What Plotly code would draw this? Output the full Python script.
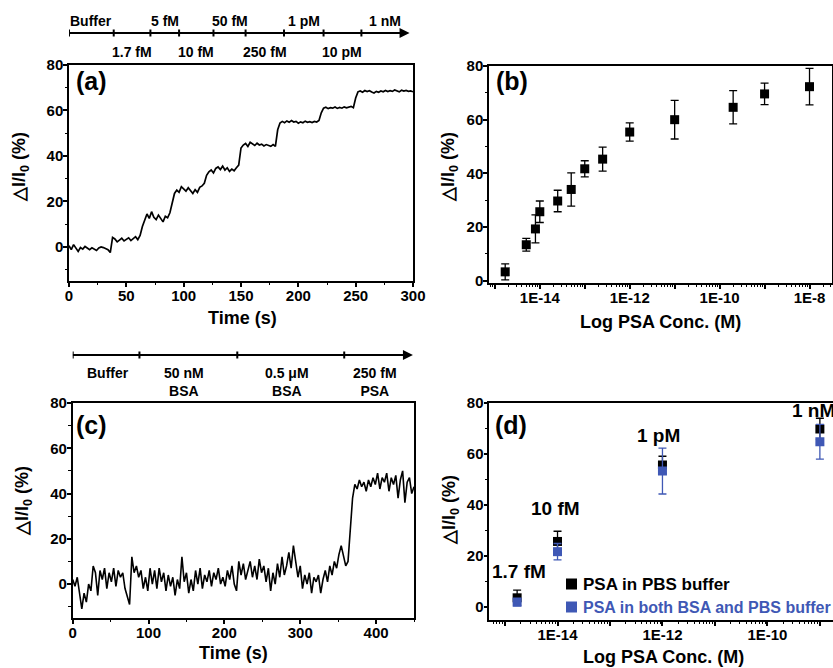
import math
import plotly.graph_objects as go

FONT = "Arial, Liberation Sans, sans-serif"
BLUE = "#3F58B5"

# ---------------- data ----------------
# (a) real-time response to increasing PSA concentrations (sampled every 2 s)
signal_a = [0.5, -1.2, 1.0, -0.8, -2.0, -0.3, -1.0, 0.2, -0.5, -1.2, -0.4, -0.9, -1.6, -0.5, 0.0, -0.3, -0.8, -1.2, -2.5,
            4.2, 3.5, 2.2, 3.0, 3.8, 2.6, 3.4, 4.0, 2.8, 3.6, 4.5, 3.2, 5.0,
            9.0, 12.0, 14.5, 12.5, 15.5, 13.0, 12.0, 14.0, 12.5, 11.0, 13.5, 12.8, 15.0,
            20.0, 23.5, 25.0, 24.0, 26.5, 25.5, 24.5, 26.0, 24.8, 23.5, 25.2, 24.0, 26.2, 26.8, 28.0,
            31.5, 33.0, 33.8, 32.5, 34.5, 35.2, 34.0, 35.5, 33.8, 34.8, 33.2, 34.2, 33.5, 34.8, 36.0,
            43.5, 44.8, 45.5, 44.2, 46.0, 45.2, 44.6, 45.6, 44.8, 45.2, 44.4, 45.0, 44.6, 44.2, 45.0, 44.2,
            51.5, 54.5, 55.2, 54.6, 55.4, 54.8, 55.6, 54.9, 55.2, 54.4, 55.0, 54.6, 55.3, 54.8, 55.1, 54.7, 55.2, 54.9, 55.6,
            59.0, 61.0, 61.4, 60.8, 61.2, 61.0, 61.5, 60.9, 61.3, 61.0, 61.6, 61.2, 61.4, 61.8, 61.2,
            65.5, 68.2, 68.6, 68.0, 68.8, 68.3, 68.7, 68.1, 67.7, 68.4, 68.0, 68.6, 68.2, 68.8, 68.3, 68.7, 68.4, 69.0,
            68.5, 68.2, 68.9, 68.5, 68.8, 68.4, 68.6, 68.2]
time_a = [2 * i for i in range(len(signal_a))]

timeline_a_times = [0, 39, 71, 96, 126, 154, 187.5, 222, 255]
timeline_a_end = 297
timeline_a_labels = ["Buffer", "1.7 fM", "5 fM", "10 fM", "50 fM", "250 fM", "1 pM", "10 pM", "1 nM"]

# (b) calibration
conc_b = [1.7e-15, 5e-15, 8e-15, 1e-14, 2.5e-14, 5e-14, 1e-13, 2.5e-13, 1e-12, 1e-11, 2e-10, 1e-9, 1e-8]
resp_b = [3.3, 13.4, 19.3, 25.7, 29.7, 34.0, 41.7, 45.3, 55.4, 60.0, 64.6, 69.6, 72.3]
err_b = [3.0, 2.4, 5.2, 4.0, 4.0, 6.2, 3.0, 4.5, 3.4, 7.2, 6.2, 4.0, 6.8]

# (c) selectivity trace (sampled every 3 s)
signal_c = [2, -1, 3, -5, -11, -4, -8, 0, -3, 8, 5, -5, 6, 2, 7, -2, 5, 1, 7, -1, 6, 3, 5, -2, -6, -9, 12, 5, 8, 3,
            6, -2, 3, -3, 7, 0, 6, -2, 7, 1, 5, -3, 4, -1, 3, -5, 2, -2, 12, 1, 5, -4, 2, -3, 6, 0, 7, -2, 4, 1,
            6, -1, 5, 2, 7, 0, 3, -1, 6, 2, 8, 0, -3, 10, 4, 9, 2, 6, 10, 3, 8, 2, 11, 5, 8, 1, 7, -3, 5, 0,
            9, 3, 12, 4, 8, 14, 7, 17, 10, 3, 8, -2, 4, 0, 5, -4, 3, 1, 4, -4, 2, 6, 1, 8, 4, 10, 7, 13, 17, 12,
            8, 10, 22, 38, 44, 42, 46, 43, 45, 41, 46, 43, 47, 44, 49, 42, 47, 45, 49, 41, 47, 44, 48, 38, 46, 50,
            36, 45, 47, 40, 43]
time_c = [3 * i for i in range(len(signal_c))]

timeline_c_times = [0, 88, 217, 358]
timeline_c_end = 448.6
timeline_c_label_pos = [46, 147, 282, 398]
timeline_c_labels = ["Buffer", "50 nM<br>BSA", "0.5 μM<br>BSA", "250 fM<br>PSA"]

# (d) PBS vs BSA+PBS
conc_d = [1.7e-15, 1e-14, 1e-12, 1e-9]
conc_d_labels = ["1.7 fM", "10 fM", "1 pM", "1 nM"]
resp_pbs = [3.5, 25.6, 55.6, 69.7]
err_pbs = [3.0, 4.0, 3.4, 4.2]
resp_bsa = [1.8, 21.6, 53.2, 64.7]
err_bsa = [1.5, 3.2, 9.0, 6.8]
legend_names = ["PSA in PBS buffer", "PSA in both BSA and PBS buffer"]

# ---------------- figure ----------------
fig = go.Figure()

fig.add_trace(go.Scatter(x=time_a, y=signal_a, mode="lines", line=dict(color="black", width=1.7),
                         xaxis="x", yaxis="y", showlegend=False))
fig.add_trace(go.Scatter(x=conc_b, y=resp_b, mode="markers",
                         marker=dict(symbol="square", size=9, color="black"),
                         error_y=dict(type="data", array=err_b, color="black", thickness=1.3, width=4),
                         xaxis="x2", yaxis="y2", showlegend=False))
fig.add_trace(go.Scatter(x=time_c, y=signal_c, mode="lines", line=dict(color="black", width=1.6),
                         xaxis="x3", yaxis="y3", showlegend=False))
fig.add_trace(go.Scatter(x=conc_d, y=resp_pbs, mode="markers", name=legend_names[0],
                         marker=dict(symbol="square", size=9, color="black"),
                         error_y=dict(type="data", array=err_pbs, color="black", thickness=1.3, width=4),
                         xaxis="x4", yaxis="y4", showlegend=False))
fig.add_trace(go.Scatter(x=conc_d, y=resp_bsa, mode="markers", name=legend_names[1],
                         marker=dict(symbol="square", size=9, color=BLUE),
                         error_y=dict(type="data", array=err_bsa, color=BLUE, thickness=1.3, width=4),
                         xaxis="x4", yaxis="y4", showlegend=False))


def ax_style(standoff, **kw):
    d = dict(showline=True, linecolor="black", linewidth=1.5, mirror=True,
             ticks="outside", ticklen=4, tickwidth=1.5, tickcolor="black",
             tickfont=dict(family=FONT, size=15, color="black", weight="bold"),
             ticklabelstandoff=standoff,
             showgrid=False, zeroline=False, automargin=False)
    d.update(kw)
    return d


def minor(dtick):
    return dict(ticks="outside", ticklen=2.5, tickwidth=1.2, tickcolor="black", dtick=dtick, showgrid=False)


def log_minor(lo, hi):
    return dict(ticks="outside", ticklen=2.5, tickwidth=1.2, tickcolor="black", showgrid=False,
                tickmode="array",
                tickvals=[m * 10.0 ** k for k in range(lo, hi) for m in range(2, 10)])


W, H = 833, 668


def px_x(v):
    return v / W


def px_y(v):
    return 1 - v / H


dom_a = ([px_x(69), px_x(413)], [px_y(281), px_y(65)])
dom_b = ([px_x(489), px_x(832)], [px_y(283), px_y(66)])
dom_c = ([px_x(72.7), px_x(414)], [px_y(618), px_y(403)])
dom_d = ([px_x(489.3), 1.0], [px_y(620), px_y(402.7)])

decades_b = [10.0 ** k for k in range(-15, -7)]
labels_b = ["1E%d" % k if k % 2 == 0 else "" for k in range(-15, -7)]
decades_d = [10.0 ** k for k in range(-15, -8)]
labels_d = ["1E%d" % k if k % 2 == 0 else "" for k in range(-15, -8)]

XS, YS = -4, -3
fig.update_layout(
    template="none",
    width=W, height=H, margin=dict(l=0, r=0, t=0, b=0, pad=0, autoexpand=False),
    plot_bgcolor="white", paper_bgcolor="white",
    font=dict(family=FONT, color="black"),
    xaxis=ax_style(XS, domain=dom_a[0], anchor="y", range=[0, 300], dtick=50, minor=minor(25)),
    yaxis=ax_style(YS, domain=dom_a[1], anchor="x", range=[-15, 80], dtick=20, minor=minor(10)),
    xaxis2=ax_style(XS, domain=dom_b[0], anchor="y2", type="log", range=[-15.13, -7.5],
                    tickmode="array", tickvals=decades_b, ticktext=labels_b, minor=log_minor(-16, -7)),
    yaxis2=ax_style(YS, domain=dom_b[1], anchor="x2", range=[-0.85, 80], dtick=20, minor=minor(10)),
    xaxis3=ax_style(XS, domain=dom_c[0], anchor="y3", range=[0, 450], dtick=100, minor=minor(50)),
    yaxis3=ax_style(YS, domain=dom_c[1], anchor="x3", range=[-15, 80], dtick=20, minor=minor(10)),
    xaxis4=ax_style(XS, domain=dom_d[0], anchor="y4", type="log", range=[-15.3, -8.75],
                    tickmode="array", tickvals=decades_d, ticktext=labels_d, minor=log_minor(-16, -8)),
    yaxis4=ax_style(YS, domain=dom_d[1], anchor="x4", range=[-5.2, 80], dtick=20, minor=minor(10)),
)

shapes = []
annotations = []

# ---- timeline (a)
ya = px_y(33)
tk = 3.5 / H
shapes.append(dict(type="line", xref="x", yref="paper", x0=timeline_a_times[0], x1=timeline_a_end - 3,
                   y0=ya, y1=ya, line=dict(color="black", width=2)))
for t in timeline_a_times:
    shapes.append(dict(type="line", xref="x", yref="paper", x0=t, x1=t, y0=ya - tk, y1=ya + tk,
                       line=dict(color="black", width=2)))
annotations.append(dict(x=timeline_a_end, y=ya, xref="x", yref="paper", ax=-12, ay=0,
                        axref="pixel", ayref="pixel", showarrow=True, arrowhead=2, arrowsize=1,
                        arrowwidth=2, arrowcolor="black", text=""))
bounds = timeline_a_times + [timeline_a_end]
for i, lab in enumerate(timeline_a_labels):
    xc = (bounds[i] + bounds[i + 1]) / 2
    yy = px_y(21) if i % 2 == 0 else px_y(52)
    annotations.append(dict(x=xc, y=yy, xref="x", yref="paper", text="<b>%s</b>" % lab, showarrow=False,
                            font=dict(size=14, family=FONT, color="black"), xanchor="center", yanchor="middle"))

# ---- timeline (c)
yc = px_y(355)
shapes.append(dict(type="line", xref="x3", yref="paper", x0=timeline_c_times[0], x1=timeline_c_end - 4,
                   y0=yc, y1=yc, line=dict(color="black", width=2)))
for t in timeline_c_times:
    shapes.append(dict(type="line", xref="x3", yref="paper", x0=t, x1=t, y0=yc - tk, y1=yc + tk,
                       line=dict(color="black", width=2)))
annotations.append(dict(x=timeline_c_end, y=yc, xref="x3", yref="paper", ax=-12, ay=0,
                        axref="pixel", ayref="pixel", showarrow=True, arrowhead=2, arrowsize=1,
                        arrowwidth=2, arrowcolor="black", text=""))
for xpos, lab in zip(timeline_c_label_pos, timeline_c_labels):
    annotations.append(dict(x=xpos, y=px_y(363), xref="x3", yref="paper", text="<b>%s</b>" % lab,
                            showarrow=False, font=dict(size=14, family=FONT, color="black"),
                            xanchor="center", yanchor="top"))

# ---- panel letters
for lab, (xx, yy) in zip(["(a)", "(b)", "(c)", "(d)"], [(91, 81), (512, 81), (91, 425), (511, 425)]):
    annotations.append(dict(x=px_x(xx), y=px_y(yy), xref="paper", yref="paper", text="<b>%s</b>" % lab,
                            showarrow=False, font=dict(size=25, family=FONT, color="black"),
                            xanchor="center", yanchor="middle"))

# ---- axis titles
ytitle = "<b>△I/I<sub>0</sub> (%)</b>"
for (xx, yy) in [(20, 167), (449, 167), (23, 501), (450, 510)]:
    annotations.append(dict(x=px_x(xx), y=px_y(yy), xref="paper", yref="paper", text=ytitle, textangle=-90,
                            showarrow=False, font=dict(size=18, family=FONT, color="black"),
                            xanchor="center", yanchor="middle"))
for (txt, xx, yy) in [("Time (s)", 242, 318), ("Log PSA Conc. (M)", 660, 322),
                      ("Time (s)", 233, 653), ("Log PSA Conc. (M)", 663, 657)]:
    annotations.append(dict(x=px_x(xx), y=px_y(yy), xref="paper", yref="paper", text="<b>%s</b>" % txt,
                            showarrow=False, font=dict(size=18, family=FONT, color="black"),
                            xanchor="center", yanchor="middle"))

# ---- concentration labels in (d)
label_offsets = [(2, 14.0), (-2, 38.7), (-4, 67.0), (-6, 77.1)]
for c, lab, (xs, yv) in zip(conc_d, conc_d_labels, label_offsets):
    annotations.append(dict(x=math.log10(c), y=yv, xref="x4", yref="y4", xshift=xs, text="<b>%s</b>" % lab,
                            showarrow=False, font=dict(size=19, family=FONT, color="black"),
                            xanchor="center", yanchor="middle"))

# ---- legend of (d)
for (name, col, cy, fs) in [(legend_names[0], "black", 584, 17), (legend_names[1], BLUE, 607, 16)]:
    shapes.append(dict(type="rect", xref="paper", yref="paper", x0=px_x(566), x1=px_x(577),
                       y0=px_y(cy + 5.5), y1=px_y(cy - 5.5), fillcolor=col, line=dict(width=0)))
    annotations.append(dict(x=px_x(581), y=px_y(cy), xref="paper", yref="paper", text="<b>%s</b>" % name,
                            showarrow=False, font=dict(size=fs, family=FONT, color=col),
                            xanchor="left", yanchor="middle"))

fig.update_layout(shapes=shapes, annotations=annotations)
fig.write_html("out.html", config={"displayModeBar": False},
               post_script="document.body.style.margin='0';document.body.style.padding='0';"
                           "document.body.style.overflow='hidden';")
